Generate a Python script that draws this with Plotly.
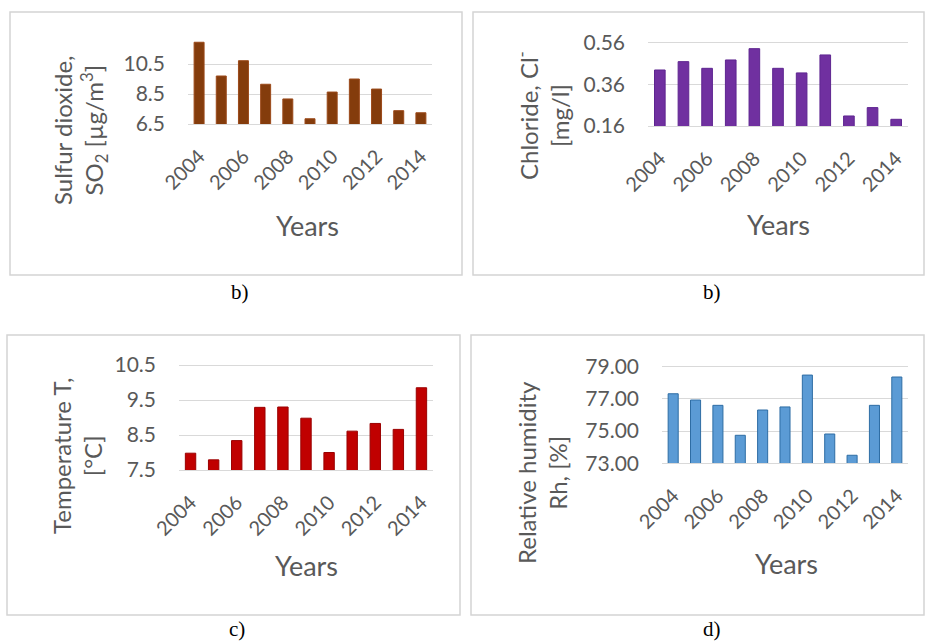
import plotly.graph_objects as go

W, H = 926, 642

years = [2004, 2005, 2006, 2007, 2008, 2009, 2010, 2011, 2012, 2013, 2014]
so2 = [11.95, 9.7, 10.72, 9.15, 8.17, 6.85, 8.63, 9.5, 8.83, 7.39, 7.25]
chloride = [0.428, 0.468, 0.436, 0.476, 0.53, 0.436, 0.414, 0.50, 0.208, 0.248, 0.192]
temperature = [7.98, 7.79, 8.34, 9.29, 9.30, 8.98, 8.00, 8.61, 8.83, 8.66, 9.85]
humidity = [77.32, 76.93, 76.60, 74.74, 76.31, 76.50, 78.48, 74.82, 73.50, 76.60, 78.36]

year_ticks = [2004, 2006, 2008, 2010, 2012, 2014]
so2_ticks = [6.5, 8.5, 10.5]
cl_ticks = [0.16, 0.36, 0.56]
t_ticks = [7.5, 8.5, 9.5, 10.5]
rh_ticks = [73.0, 75.0, 77.0, 79.0]

GRAY = "#595959"
FONT = "Lato"

def px(x):
    return x / W

def py(y):
    return 1 - y / H

panels = [
    dict(y=so2, ticks=so2_ticks, fmt=".1f", color="#843c0c", lc="#9c4a1a",
         x0=188, x1=432, ybot=124, ppu=15.0, rng=[6.5, 12.2]),
    dict(y=chloride, ticks=cl_ticks, fmt=".2f", color="#7030a0", lc="#5e2590",
         x0=648, x1=908, ybot=126, ppu=209.0, rng=[0.16, 0.57]),
    dict(y=temperature, ticks=t_ticks, fmt=".1f", color="#c00000", lc="#9a0000",
         x0=179, x1=433, ybot=470, ppu=35.0, rng=[7.5, 10.6]),
    dict(y=humidity, ticks=rh_ticks, fmt=".2f", color="#5b9bd5", lc="#2e6da4",
         x0=662, x1=908, ybot=463.3, ppu=16.1, rng=[73.0, 79.2]),
]

fig = go.Figure()
layout = {}
for i, p in enumerate(panels, start=1):
    xa = "x" if i == 1 else f"x{i}"
    ya = "y" if i == 1 else f"y{i}"
    fig.add_trace(go.Bar(
        x=years, y=p["y"], xaxis=xa, yaxis=ya, width=0.45,
        marker=dict(color=p["color"], line=dict(color=p["lc"], width=1)),
        showlegend=False, hoverinfo="skip",
    ))
    ytop = p["ybot"] - (p["rng"][1] - p["rng"][0]) * p["ppu"]
    xkey = "xaxis" if i == 1 else f"xaxis{i}"
    ykey = "yaxis" if i == 1 else f"yaxis{i}"
    layout[xkey] = dict(
        domain=[px(p["x0"]), px(p["x1"])], anchor=ya, automargin=False,
        range=[2003.5, 2014.5], tickvals=year_ticks, tickangle=-45,
        showgrid=False, zeroline=False, showline=True, linecolor="#d9d9d9",
        linewidth=1, ticks="", ticklabelstandoff=12,
        tickfont=dict(family=FONT, size=20, color=GRAY), fixedrange=True,
    )
    layout[ykey] = dict(
        domain=[py(p["ybot"]), py(ytop)], anchor=xa, automargin=False,
        range=p["rng"], tickvals=p["ticks"], tickformat=p["fmt"],
        showgrid=True, gridcolor="#d9d9d9", gridwidth=1, zeroline=False,
        showline=False, ticks="", ticklabelstandoff=22,
        tickfont=dict(family=FONT, size=21, color=GRAY), fixedrange=True,
    )

fig.update_layout(**layout)

frames = [(10, 12, 462, 275), (473, 12, 924, 275), (7, 335, 460, 615), (471, 335, 924, 615)]
shapes = []
for (a, b, c, d) in frames:
    shapes.append(dict(type="rect", xref="paper", yref="paper",
                       x0=px(a), x1=px(c), y0=py(d), y1=py(b),
                       line=dict(color="#d4d4d4", width=1.5), layer="below"))

annotations = []
ytitles = [
    ("Sulfur dioxide,<br>SO<sub>2</sub> [µg/m<sup>3</sup>]", 80, 130),
    ("Chloride, Cl<sup>-</sup><br>[mg/l]", 542, 116),
    ("Temperature T,<br>[°C]", 77, 456),
    ("Relative humidity<br>Rh, [%]", 542, 473),
]
for t, x, y in ytitles:
    annotations.append(dict(text=t, x=px(x), y=py(y), xref="paper", yref="paper",
                            showarrow=False, textangle=-90, xanchor="center", yanchor="middle",
                            font=dict(family=FONT, size=24, color=GRAY)))
for x, y in [(307, 225), (778, 224), (306, 565), (786, 563)]:
    annotations.append(dict(text="Years", x=px(x), y=py(y), xref="paper", yref="paper",
                            showarrow=False, xanchor="center", yanchor="middle",
                            font=dict(family=FONT, size=27, color=GRAY)))
for t, x, y in [("b)", 240, 292), ("b)", 712, 292), ("c)", 237, 629), ("d)", 712, 629)]:
    annotations.append(dict(text=t, x=px(x), y=py(y), xref="paper", yref="paper",
                            showarrow=False, xanchor="center", yanchor="middle",
                            font=dict(family="Liberation Serif", size=21, color="black")))

fig.update_layout(
    width=W, height=H, margin=dict(l=0, r=0, t=0, b=0, pad=0, autoexpand=False),
    paper_bgcolor="white", plot_bgcolor="white",
    shapes=shapes, annotations=annotations, bargap=0.5,
)

fig.write_html("out.html", config={"displayModeBar": False},
               post_script="document.body.style.margin='0';document.body.style.overflow='hidden';")
